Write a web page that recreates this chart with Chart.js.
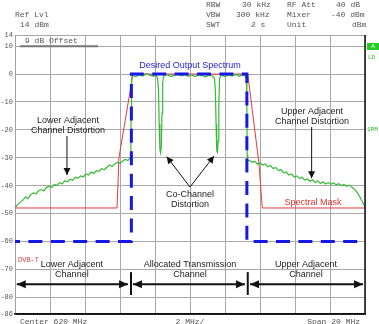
<!DOCTYPE html>
<html lang="en">
<head>
<meta charset="UTF-8">
<title>DVB-T Spectrum Mask</title>
<script src="https://cdn.jsdelivr.net/npm/chart.js"></script>
<style>
  html, body { margin: 0; padding: 0; background: #fff; }
  #wrap { width: 379px; height: 324px; }
</style>
</head>
<body>
<div id="wrap"><canvas id="spec" width="379" height="324"></canvas></div>
<script>
// x = offset from 620 MHz centre (MHz), y = level (dBm)
const xTicks = [-10, -8, -6, -4, -2, 0, 2, 4, 6, 8, 10];
const yTicks = [14, 10, 0, -10, -20, -30, -40, -50, -60, -70, -80, -86];

const desiredX = [-10, -3.35, -3.35, 3.25, 3.25, 10];
const desiredY = [-60, -60, 0, 0, -60, -60];

const maskX = [-10, -4.17, -4.06, -3.26, 3.3, 3.94, 4.13, 10];
const maskY = [-48, -48, -30, 0, 0, -32, -48, -48];

const measured = [
  [-10.0, -48.0], [-9.85, -46.8], [-9.7, -45.9], [-9.55, -45.2], [-9.4, -44.1], [-9.25, -44.6],
  [-9.1, -43.2], [-8.95, -42.6], [-8.8, -42.9], [-8.65, -41.8], [-8.5, -41.4], [-8.35, -41.9],
  [-8.2, -40.6], [-8.05, -40.2], [-7.9, -40.7], [-7.75, -39.6], [-7.6, -39.9], [-7.45, -38.9],
  [-7.3, -39.3], [-7.15, -38.2], [-7.0, -38.6], [-6.85, -37.7], [-6.7, -38.1], [-6.55, -37.0],
  [-6.4, -37.4], [-6.25, -36.5], [-6.1, -36.9], [-5.95, -35.8], [-5.8, -36.2], [-5.65, -35.1],
  [-5.5, -35.6], [-5.35, -34.6], [-5.2, -34.9], [-5.05, -33.9], [-4.9, -34.3], [-4.75, -33.4],
  [-4.6, -32.6], [-4.45, -33.1], [-4.3, -32.2], [-4.15, -31.6], [-4.0, -32.0], [-3.85, -31.2],
  [-3.7, -30.6], [-3.55, -31.0], [-3.45, -30.2], [-3.38, -29.8], [-3.36, -12], [-3.34, -2],
  [-3.3, -0.6], [-3.1, -0.9], [-2.9, -0.2], [-2.7, -0.7], [-2.5, 0.1], [-2.3, -0.4],
  [-2.1, -0.8], [-1.95, -0.3], [-1.85, -1.5], [-1.8, -6], [-1.76, -18], [-1.72, -27],
  [-1.68, -28.2], [-1.64, -26], [-1.6, -14], [-1.56, -3], [-1.5, -0.6], [-1.3, -0.2],
  [-1.1, -0.9], [-0.9, -0.4], [-0.7, 0], [-0.5, -0.6], [-0.3, -0.1], [-0.1, -0.8],
  [0.1, -0.3], [0.3, -0.9], [0.5, -0.2], [0.7, -0.6], [0.9, -1.0], [1.1, -0.3],
  [1.3, -0.8], [1.4, -1.6], [1.45, -6], [1.49, -18], [1.53, -27.5], [1.57, -28],
  [1.61, -24], [1.65, -10], [1.69, -1.5], [1.8, -0.4], [2.0, -0.9], [2.2, -0.2],
  [2.4, -0.7], [2.6, -0.1], [2.8, -0.8], [3.0, -0.3], [3.15, -0.7], [3.22, -1.5],
  [3.25, -12], [3.27, -29], [3.3, -31], [3.4, -31.0], [3.55, -31.6], [3.7, -31.2],
  [3.85, -32.3], [4.0, -31.9], [4.15, -32.6], [4.3, -32.2], [4.45, -33.2], [4.6, -32.8],
  [4.75, -33.9], [4.9, -33.5], [5.05, -34.6], [5.2, -34.3], [5.35, -35.4], [5.5, -35.1],
  [5.65, -36.2], [5.8, -35.8], [5.95, -36.9], [6.1, -36.5], [6.25, -37.4], [6.4, -37.0],
  [6.55, -38.0], [6.7, -37.6], [6.85, -38.4], [7.0, -37.9], [7.15, -38.9], [7.3, -38.3],
  [7.45, -39.2], [7.6, -38.6], [7.75, -39.4], [7.9, -38.9], [8.05, -39.5], [8.2, -39.0],
  [8.35, -39.7], [8.5, -39.3], [8.65, -40.0], [8.8, -39.6], [8.95, -40.2], [9.1, -39.8],
  [9.25, -40.6], [9.4, -41.3], [9.55, -42.4], [9.7, -44.0], [9.85, -45.8], [10.0, -47.6]
];

const headerLeft = ['Ref Lvl', '14 dBm'];
const headerRows = [
  ['RBW', '30 kHz', 'RF Att', '40 dB'],
  ['VBW', '300 kHz', 'Mixer', '-40 dBm'],
  ['SWT', '2 s', 'Unit', 'dBm']
];
const footer = ['Center 620 MHz', '2 MHz/', 'Span 20 MHz'];

const pts = (xs, ys) => xs.map((x, i) => ({ x: x, y: ys[i] }));

function head(ctx, x1, y1, x2, y2, len, hw) {
  const a = Math.atan2(y2 - y1, x2 - x1);
  ctx.beginPath();
  ctx.moveTo(x2, y2);
  ctx.lineTo(x2 - len * Math.cos(a) + hw * Math.sin(a), y2 - len * Math.sin(a) - hw * Math.cos(a));
  ctx.lineTo(x2 - len * Math.cos(a) - hw * Math.sin(a), y2 - len * Math.sin(a) + hw * Math.cos(a));
  ctx.closePath();
  ctx.fill();
}

function arrow(ctx, x1, y1, x2, y2, lw, len, hw) {
  ctx.lineWidth = lw;
  ctx.beginPath();
  ctx.moveTo(x1, y1);
  ctx.lineTo(x2, y2);
  ctx.stroke();
  head(ctx, x1, y1, x2, y2, len, hw);
}

const overlay = {
  id: 'overlay',
  afterDatasetsDraw(chart) {
    const ctx = chart.ctx;
    const xs = chart.scales.x, ys = chart.scales.y;
    const px = v => xs.getPixelForValue(v);
    const py = v => ys.getPixelForValue(v);
    ctx.save();

    // y tick labels
    ctx.font = '7px "Liberation Mono", monospace';
    ctx.fillStyle = '#555';
    ctx.textBaseline = 'middle';
    ctx.textAlign = 'right';
    yTicks.forEach(v => ctx.fillText(String(v), chart.chartArea.left - 2, py(v)));

    // instrument header
    ctx.font = '8px "Liberation Mono", monospace';
    ctx.textAlign = 'left';
    ctx.fillText(headerLeft[0], 15, 15);
    ctx.fillText(headerLeft[1], 20, 25);
    const colX = [206, 242, 287, 336];
    const rowY = [5, 15, 25];
    const shift = [[0, 0, 0, 0], [0, -6, 0, -5], [0, 9, 0, 16]];
    headerRows.forEach((row, r) => row.forEach((t, c) => ctx.fillText(t, colX[c] + shift[r][c], rowY[r])));

    ctx.fillText(footer[0], 20, 322);
    ctx.textAlign = 'center';
    ctx.fillText(footer[1], px(0), 322);
    ctx.textAlign = 'right';
    ctx.fillText(footer[2], 360, 322);

    // offset label
    ctx.strokeStyle = '#777';
    ctx.lineWidth = 2;
    ctx.beginPath();
    ctx.moveTo(20, py(10));
    ctx.lineTo(98, py(10));
    ctx.stroke();
    ctx.textAlign = 'left';
    ctx.fillStyle = '#555';
    ctx.fillText('9 dB Offset', 25, py(10) - 5);

    // right side flags
    ctx.fillStyle = '#22cc22';
    ctx.fillRect(367, 43, 12, 7);
    ctx.fillStyle = '#fff';
    ctx.font = '6px "Liberation Mono", monospace';
    ctx.textAlign = 'center';
    ctx.fillText('A', 373, 46.5);
    ctx.fillStyle = '#22bb22';
    ctx.textAlign = 'left';
    ctx.fillText('LD', 368, 57);
    ctx.fillText('1RM', 367, 129);

    ctx.fillStyle = '#e04040';
    ctx.font = '7px "Liberation Mono", monospace';
    ctx.fillText('DVB-T', px(-9.83), py(-66.7));

    // text annotations
    ctx.font = '9px "Liberation Sans", Arial, sans-serif';
    ctx.textAlign = 'center';
    ctx.fillStyle = '#2424d8';
    ctx.fillText('Desired Output Spectrum', px(0), py(3.2));
    ctx.fillStyle = '#e03030';
    ctx.fillText('Spectral Mask', px(7.03), py(-45.9));

    ctx.fillStyle = '#222';
    const labels = [
      ['Lower Adjacent', -6.97, -16.5], ['Channel Distortion', -6.97, -20.4],
      ['Upper Adjacent', 6.97, -13.3], ['Channel Distortion', 6.97, -16.9],
      ['Co-Channel', 0, -43.0], ['Distortion', 0, -46.9],
      ['Lower Adjacent', -6.75, -68.1], ['Channel', -6.75, -72.0],
      ['Allocated Transmission', 0, -68.1], ['Channel', 0, -72.0],
      ['Upper Adjacent', 6.63, -68.1], ['Channel', 6.63, -72.0]
    ];
    labels.forEach(l => ctx.fillText(l[0], px(l[1]), py(l[2])));

    ctx.strokeStyle = '#111';
    ctx.fillStyle = '#111';
    arrow(ctx, px(-7.03), py(-22.2), px(-7.03), py(-36.2), 1, 7, 3.5);
    arrow(ctx, px(6.95), py(-19.0), px(6.95), py(-37.3), 1, 7, 3.5);
    arrow(ctx, px(0), py(-40.5), px(-1.33), py(-29.6), 1, 7, 3.5);
    arrow(ctx, px(0), py(-40.5), px(1.37), py(-29.4), 1, 7, 3.5);

    // channel extents
    const ay = py(-75.3);
    arrow(ctx, px(-3.54), ay, px(-9.9), ay, 2, 9, 4);
    head(ctx, px(-9.9), ay, px(-3.54), ay, 9, 4);
    arrow(ctx, px(3.14), ay, px(-3.26), ay, 2, 9, 4);
    head(ctx, px(-3.26), ay, px(3.14), ay, 9, 4);
    arrow(ctx, px(9.89), ay, px(3.43), ay, 2, 9, 4);
    head(ctx, px(3.43), ay, px(9.89), ay, 9, 4);
    ctx.lineWidth = 2;
    [-3.37, 3.3].forEach(v => {
      ctx.beginPath();
      ctx.moveTo(px(v), py(-71.0));
      ctx.lineTo(px(v), py(-79.2));
      ctx.stroke();
    });

    // frame: dark right and bottom edges
    const a = chart.chartArea;
    ctx.strokeStyle = '#111';
    ctx.lineWidth = 1.5;
    ctx.beginPath();
    ctx.moveTo(a.right, a.top);
    ctx.lineTo(a.right, a.bottom);
    ctx.lineTo(a.left, a.bottom);
    ctx.stroke();
    ctx.restore();
  }
};

new Chart(document.getElementById('spec'), {
  type: 'line',
  data: {
    datasets: [
      {
        label: 'Desired Output Spectrum',
        data: pts(desiredX, desiredY),
        borderColor: '#1717e6',
        borderWidth: 3,
        borderDash: [14, 8.4],
        borderDashOffset: 9,
        order: 1
      },
      {
        label: 'Measured',
        data: measured.map(p => ({ x: p[0], y: p[1] })),
        borderColor: '#35bb35',
        borderWidth: 1.2,
        order: 2
      },
      {
        label: 'Spectral Mask',
        data: pts(maskX, maskY),
        borderColor: '#e23c3c',
        borderWidth: 1,
        order: 3
      }
    ]
  },
  options: {
    responsive: false,
    animation: false,
    events: [],
    layout: { padding: { top: 35, right: 14, bottom: 0, left: 0 } },
    elements: { point: { radius: 0 }, line: { tension: 0 } },
    plugins: { legend: { display: false }, tooltip: { enabled: false } },
    scales: {
      x: {
        type: 'linear',
        min: -10,
        max: 10,
        afterBuildTicks: s => { s.ticks = xTicks.map(v => ({ value: v })); },
        afterFit: s => { s.height = 10; },
        grid: { color: '#a8a8a8', drawTicks: false },
        border: { color: '#111', width: 1.5 },
        ticks: { display: false }
      },
      y: {
        min: -86,
        max: 14,
        afterBuildTicks: s => { s.ticks = yTicks.map(v => ({ value: v })); },
        afterFit: s => { s.width = 15; },
        grid: { color: '#a8a8a8', drawTicks: false },
        border: { color: '#a0a0a0' },
        ticks: { display: false }
      }
    }
  },
  plugins: [overlay]
});
</script>
</body>
</html>
